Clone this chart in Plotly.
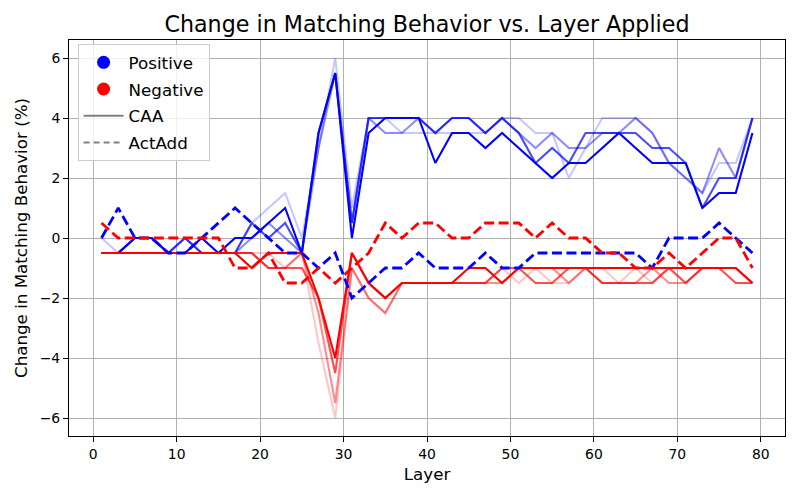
import plotly.graph_objects as go

layers = list(range(1, 80, 2))

# CAA, positive (alpha low -> high)
caa_pos_1 = [0, -0.5, 0, 0, -0.5, -0.5, -0.5, -0.5, -0.5, 0.5, 1.0, 1.5, 0, 3.0, 6.0,
             1.0, 4.0, 4.0, 3.5, 3.5, 3.5, 3.5, 3.5, 3.5, 4.0, 4.0, 3.5, 3.5, 2.0, 3.0,
             4.0, 4.0, 4.0, 3.5, 2.5, 2.0, 1.5, 2.5, 2.5, 4.0]
caa_pos_2 = [-0.5, -0.5, 0, 0, -0.5, 0, -0.5, -0.5, -0.5, 0, 0.5, 0, -0.5, 3.0, 5.5,
             0.5, 4.0, 3.5, 3.5, 4.0, 3.5, 4.0, 4.0, 3.5, 4.0, 3.5, 3.0, 3.5, 3.0, 3.0,
             3.5, 3.5, 4.0, 3.5, 2.5, 2.0, 1.5, 3.0, 2.0, 4.0]
caa_pos_3 = [-0.5, -0.5, 0, 0, -0.5, 0, -0.5, -0.5, -0.5, 0.5, 0, 0.5, -0.5, 3.5, 5.5,
             0.5, 4.0, 4.0, 4.0, 4.0, 3.5, 4.0, 4.0, 3.5, 4.0, 3.5, 2.5, 3.0, 2.5, 3.5,
             3.5, 3.5, 3.5, 3.0, 3.0, 2.5, 1.0, 2.0, 2.0, 4.0]
caa_pos_4 = [-0.5, -0.5, 0, 0, -0.5, -0.5, 0, -0.5, 0, 0, 0.5, 1.0, -0.5, 3.5, 5.5,
             0, 3.5, 4.0, 4.0, 4.0, 2.5, 3.5, 3.5, 3.0, 3.5, 3.0, 2.5, 2.0, 2.5, 2.5,
             3.0, 3.5, 3.0, 2.5, 2.5, 2.5, 1.0, 1.5, 1.5, 3.5]

# CAA, negative (alpha low -> high)
caa_neg_1 = [-0.5, -0.5, -0.5, -0.5, -0.5, -0.5, -0.5, -0.5, -0.5, -0.5, -0.5, -1.0, -0.5, -3.5, -6.0,
             -1.0, -2.0, -2.5, -1.5, -1.5, -1.5, -1.5, -1.5, -1.5, -1.0, -1.5, -1.0, -1.5, -1.5, -1.0,
             -1.0, -1.5, -1.0, -1.5, -1.0, -1.0, -1.0, -1.0, -1.0, -1.5]
caa_neg_2 = [-0.5, -0.5, -0.5, -0.5, -0.5, -0.5, -0.5, -0.5, -0.5, -0.5, -1.0, -1.0, -0.5, -2.5, -5.5,
             -1.0, -2.0, -2.5, -1.5, -1.5, -1.5, -1.5, -1.5, -1.5, -1.5, -1.0, -1.0, -1.0, -1.5, -1.0,
             -1.5, -1.5, -1.5, -1.0, -1.5, -1.5, -1.0, -1.0, -1.0, -1.5]
caa_neg_3 = [-0.5, -0.5, -0.5, -0.5, -0.5, -0.5, -0.5, -0.5, -0.5, -0.5, -1.0, -1.0, -1.0, -2.0, -4.5,
             -0.5, -1.5, -2.0, -1.5, -1.5, -1.5, -1.5, -1.5, -1.5, -1.0, -1.0, -1.5, -1.5, -1.0, -1.0,
             -1.5, -1.5, -1.5, -1.5, -1.0, -1.5, -1.0, -1.0, -1.5, -1.5]
caa_neg_4 = [-0.5, -0.5, -0.5, -0.5, -0.5, -0.5, -0.5, -0.5, -0.5, -1.0, -0.5, -0.5, -0.5, -2.0, -4.0,
             -0.5, -1.5, -2.0, -1.5, -1.5, -1.5, -1.5, -1.0, -1.0, -1.5, -1.0, -1.0, -1.0, -1.0, -1.0,
             -1.0, -1.0, -1.0, -1.0, -1.0, -1.0, -1.0, -1.0, -1.0, -1.5]

# ActAdd
actadd_pos = [0, 1.0, 0, 0, -0.5, -0.5, 0, 0.5, 1.0, 0.5, 0, -0.5, -0.5, -1.0, -0.5,
              -2.0, -1.5, -1.0, -1.0, -0.5, -1.0, -1.0, -1.0, -0.5, -1.0, -1.0, -0.5, -0.5, -0.5, -0.5,
              -0.5, -0.5, -0.5, -1.0, 0, 0, 0, 0.5, 0, -0.5]
actadd_neg = [0.5, 0, 0, 0, 0, 0, 0, 0, -1.0, -1.0, -0.5, -1.5, -1.5, -1.0, -1.5,
              -1.0, -0.5, 0.5, 0, 0.5, 0.5, 0, 0, 0.5, 0.5, 0.5, 0, 0.5, 0, 0,
              -0.5, -0.5, -1.0, -1.0, -0.5, -1.0, -0.5, 0, 0, -1.0]

alphas = [0.22, 0.45, 0.7, 1.0]

fig = go.Figure()

def rgba(rgb, a):
    return f"rgba({rgb[0]},{rgb[1]},{rgb[2]},{a})"

for vals, a in zip([caa_pos_1, caa_pos_2, caa_pos_3, caa_pos_4], alphas):
    fig.add_trace(go.Scatter(x=layers, y=vals, mode="lines",
                             line=dict(color=rgba((0, 0, 255), a), width=2.1),
                             showlegend=False, hoverinfo="skip"))
for vals, a in zip([caa_neg_1, caa_neg_2, caa_neg_3, caa_neg_4], alphas):
    fig.add_trace(go.Scatter(x=layers, y=vals, mode="lines",
                             line=dict(color=rgba((255, 0, 0), a), width=2.1),
                             showlegend=False, hoverinfo="skip"))

fig.add_trace(go.Scatter(x=layers, y=actadd_pos, mode="lines",
                         line=dict(color="blue", width=2.8, dash="10px,4.5px"),
                         showlegend=False, hoverinfo="skip"))
fig.add_trace(go.Scatter(x=layers, y=actadd_neg, mode="lines",
                         line=dict(color="red", width=2.8, dash="10px,4.5px"),
                         showlegend=False, hoverinfo="skip"))

# Legend proxies
fig.add_trace(go.Scatter(x=[None], y=[None], mode="markers", name="Positive",
                         marker=dict(color="blue", size=13), legendgroup="a"))
fig.add_trace(go.Scatter(x=[None], y=[None], mode="markers", name="Negative",
                         marker=dict(color="red", size=13), legendgroup="b"))
fig.add_trace(go.Scatter(x=[None], y=[None], mode="lines", name="CAA",
                         line=dict(color="gray", width=2), legendgroup="c"))
fig.add_trace(go.Scatter(x=[None], y=[None], mode="lines", name="ActAdd",
                         line=dict(color="gray", width=2, dash="6px,4px"), legendgroup="d"))

fig.update_layout(
    width=792, height=492,
    margin=dict(l=61, r=15, t=32, b=64),
    paper_bgcolor="white", plot_bgcolor="white",
    font=dict(family="DejaVu Sans", color="black", size=13.9),
    title=dict(text="Change in Matching Behavior vs. Layer Applied",
               x=0.5, xref="paper", xanchor="center",
               y=0.9675, yanchor="middle", font=dict(size=22.2)),
    legend=dict(x=0.012, y=0.99, xanchor="left", yanchor="top",
                bgcolor="rgba(255,255,255,0.8)", bordercolor="#cccccc", borderwidth=1,
                font=dict(size=16.7), tracegroupgap=2, itemwidth=40),
)
fig.update_xaxes(range=[-2.9, 82.9], tickmode="linear", tick0=0, dtick=10,
                 showgrid=True, gridcolor="#b0b0b0", gridwidth=0.8,
                 showline=True, linecolor="black", linewidth=1, mirror=True,
                 ticks="outside", ticklen=5, tickcolor="black", zeroline=False,
                 title=dict(text="Layer", font=dict(size=16.7), standoff=7))
fig.update_yaxes(range=[-6.6, 6.6], tickmode="linear", tick0=0, dtick=2,
                 showgrid=True, gridcolor="#b0b0b0", gridwidth=0.8,
                 showline=True, linecolor="black", linewidth=1, mirror=True,
                 ticks="outside", ticklen=5, tickcolor="black", zeroline=False,
                 title=dict(text="Change in Matching Behavior (%)", font=dict(size=16.7), standoff=7))

fig.write_html("out.html")
